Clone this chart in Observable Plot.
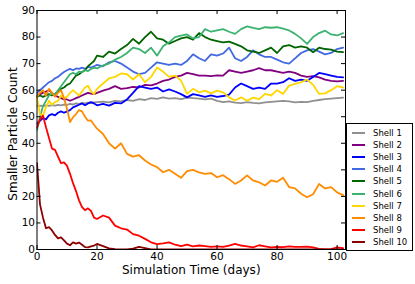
<!DOCTYPE html>
<html>
<head>
<meta charset="utf-8">
<script src="https://cdn.jsdelivr.net/npm/d3@7"></script>
<script src="https://cdn.jsdelivr.net/npm/@observablehq/plot@0.6"></script>
<style>
  html, body { margin: 0; padding: 0; background: white; }
  #wrap { position: relative; width: 415px; height: 284px; font-family: "DejaVu Sans", sans-serif; }
  #legend { position: absolute; left: 346px; top: 123px; width: 65px; height: 123px; border: 1px solid #000; background: white; padding-top: 3px; box-sizing: content-box; }
  .row { height: 12.1px; display: flex; align-items: center; font-size: 8.5px; color: #000; }
  .sw { width: 13px; height: 2px; margin-left: 5px; margin-right: 8px; }
</style>
</head>
<body>
<div id="wrap"><div id="legend"></div></div>
<script>
const days = [0,1,2,3,4,5,6,7,8,9,10,11,12,13,14,15,16,17,18,19,20,22,24,26,28,30,32,34,36,38,40,42,44,46,48,50,52,54,56,58,60,62,64,66,68,70,72,74,76,78,80,82,84,86,88,90,92,94,96,98,100,102];

const shellNames = ["Shell 1","Shell 2","Shell 3","Shell 4","Shell 5","Shell 6","Shell 7","Shell 8","Shell 9","Shell 10"];
const shellColors = ["#909090","#800080","#0000ff","#4169e1","#006400","#3cb371","#ffd700","#ff8c00","#ff0000","#8b0000"];

const shell1 = [54,54.2,54,54.3,54.1,54.4,54.2,54.5,54.3,54.6,54.5,54.8,54.6,55,54.8,55.2,55,55.3,55.1,55.4,55.5,
  55.7,55.4,56,55.8,56.3,56,56.6,56.3,57,56.7,57.3,56.8,57,56.6,57.2,
  57,56.8,56.5,56.8,56,55.5,55.8,55.3,55.1,55.5,55.2,55,55.4,55.6,55.8,56,55.8,55.4,55.6,55.5,56,56.3,56.6,56.8,57,57.2];
const shell2 = [58,58.5,59,59.5,60,59,58,57.5,57,56.5,56.5,56,56.5,57,57.5,58,58.5,59,58.7,58.5,59,
  59.8,60.5,61.5,60.5,60.8,61.2,61,62,61.8,62.5,63.5,64,65,65.5,66.5,
  66,65.5,65.5,65.3,65.6,65.5,67.5,67,66.5,67,67.5,68.3,67.5,67.5,67,66.5,67,66.5,65.5,65,65.3,64.8,64,63.5,63.3,63.5];
const shell3 = [47.5,48.5,49.5,49,50.5,51,50.5,51.5,52,51.5,52,52.5,53.5,54,54.5,55,54.3,55,55.5,55,54.3,
  54.8,54.2,55.2,55,56.5,59,61.5,61,60.5,61,59.5,60.3,59.5,58.5,57.3,
  58.5,58,57.5,58,57.5,57.8,58.3,61,62.5,61.5,60.5,61,60.5,62.5,62.5,63,64.5,63.5,64,63.5,65,66.5,66,65.5,65,64.8];
const shell4 = [59,60,61,62,63,63.5,64.5,65,66,66.8,67.5,68,67.5,68.2,68,68.5,68,68.8,68.5,69,69.5,
  69,70.5,71,70,68.5,67,66,66.5,68.5,70.5,70,69.5,70,69.5,71,
  73.5,72,71,73.5,73,73.8,76,72,71,72.5,75,73.5,72.5,72.5,71.5,70.5,70,72,74,75,75.5,74.5,73.5,74,75.5,76];
const shell5 = [57.5,58,57.5,58,58.5,58,58.5,59.5,60.5,61,62,62.5,64,65.5,66,66.8,67.5,69,70,71,73,
  72.5,74.5,73.8,75.5,77,79.3,77.5,80,82,79.5,79,77.5,78.5,79.5,80,
  79,81.5,80,79,78.5,78,78.3,77.4,76.5,75,74.5,74,75,76,74,76.5,77,76,76.5,76,74.3,76,75.5,75.3,74.5,74.3];
const shell6 = [45,50,54,56,58,58.7,58.5,60,61.5,63,64.5,66,66.5,66,67,66.8,67.5,67.2,68,68.5,68.2,
  69.3,70,71.5,72.5,74,76,75.5,74,76,73,76.5,78,80,80.5,81,
  79.5,80,83,82,82.5,83,82,81.2,83,84,83.5,83,83.7,83.5,83.7,83.2,82.5,81.2,79.5,77.4,80,81.5,82.4,81,80.6,81.5];
const shell7 = [57,51,50.5,53.5,56,54.5,55.5,56,58,57,57.5,59,60,59,58,59.5,61,61.7,59.5,58.5,60.5,
  62.5,64.4,65,66.3,66,64,66,63,65,68.5,67,65,65.5,63.6,58.6,
  60.5,59.2,59.8,58.8,59.8,59.2,57.3,56.1,57.3,56,57.2,56.6,58.6,58,60,58.6,61.7,62.4,63,64,62,58.6,58.8,60,61.5,61];
const shell8 = [57.5,59,60,58,60.5,59,57.5,59,60,57,53,48,49.8,51,52.5,52,50,48.5,48.6,47,45.5,
  43.5,40,38,40,36,35,35.5,33.5,32,31,29.1,30,28.5,27,29.5,
  30,29,28.5,28.8,27.2,28,26.5,24.7,26,27.9,26,25.3,24.1,26,25.5,27,23.5,23,21,19.7,20.8,24.7,23,23.5,21.5,20.5];
const shell9 = [46,49,50.4,46,42,38,37.5,35,32.5,32.8,31.5,28.5,25,22,18.5,16,14.8,15.5,14.5,12,11.5,
  12.8,12,9,8,7.5,5.8,5.2,4,2.7,2,2.3,2.7,1.8,1.3,1.8,
  1.2,1.5,1.3,1,1.2,1,1.5,2.1,1.5,1.2,0.8,1.6,1.2,0.8,1,0.9,1.2,1,1,1.1,0.8,0.2,0,0.1,0.8,0.5];
const shell10 = [32.5,17,12,8,8.4,7.2,5.5,4.2,4.6,3.4,2.2,1.6,2.7,2.2,2.6,1.8,0.9,0.8,1.2,1.5,2.1,
  1.3,0.4,0.1,0,0,0.3,1,0.5,0,0,0,0,0,0,0,
  0,0,0,0,0,0,0,0,0,0,0,0,0,0,0,0,0,0,0,0,0,0,0,0,0,0];

const xTicks = [0,20,40,60,80,100];
const yTicks = [0,10,20,30,40,50,60,70,80,90];
const xLabel = "Simulation Time (days)";
const yLabel = "Smaller Particle Count";

const seriesValues = [shell1,shell2,shell3,shell4,shell5,shell6,shell7,shell8,shell9,shell10];
const data = [];
seriesValues.forEach((vals, i) => {
  vals.forEach((v, j) => data.push({shell: shellNames[i], day: days[j], value: v}));
});

const W = 415, H = 284, mL = 36.5, mR = 70, mT = 10, mB = 35;
const fw = W - mL - mR, fh = H - mT - mB, tl = 4;

const chart = Plot.plot({
  width: W, height: H,
  marginLeft: mL, marginRight: mR, marginTop: mT, marginBottom: mB,
  style: {fontFamily: "DejaVu Sans", fontSize: "10.5px", background: "white", color: "black"},
  x: {domain: [0, 102.8]},
  y: {domain: [0, 90]},
  color: {domain: shellNames, range: shellColors},
  marks: [
    Plot.line(data, {x: "day", y: "value", z: "shell", stroke: "shell", strokeWidth: 1.8, clip: true}),
    Plot.tickX(xTicks, {x: d => d, insetTop: fh - tl, stroke: "black"}),
    Plot.tickX(xTicks, {x: d => d, insetBottom: fh - tl, stroke: "black"}),
    Plot.tickY(yTicks, {y: d => d, insetRight: fw - tl, stroke: "black"}),
    Plot.tickY(yTicks, {y: d => d, insetLeft: fw - tl, stroke: "black"}),
    Plot.frame({stroke: "black", strokeWidth: 1}),
    Plot.axisX(xTicks, {tickSize: 0, tickPadding: 3.5, label: null, fontSize: 10.5}),
    Plot.axisY(yTicks, {tickSize: 0, tickPadding: 2, label: null, fontSize: 10.5}),
    Plot.text([xLabel], {text: d => d, frameAnchor: "bottom", textAnchor: "middle", lineAnchor: "middle", dy: 21, fontSize: 12}),
    Plot.text([yLabel], {text: d => d, frameAnchor: "left", textAnchor: "middle", lineAnchor: "middle", rotate: -90, dx: -23.5, dy: 4, fontSize: 12})
  ]
});
document.getElementById("wrap").prepend(chart);

const legend = document.getElementById("legend");
shellNames.forEach((name, i) => {
  const row = document.createElement("div");
  row.className = "row";
  const sw = document.createElement("div");
  sw.className = "sw";
  sw.style.background = shellColors[i];
  const lab = document.createElement("span");
  lab.textContent = name;
  row.appendChild(sw);
  row.appendChild(lab);
  legend.appendChild(row);
});
</script>
</body>
</html>
